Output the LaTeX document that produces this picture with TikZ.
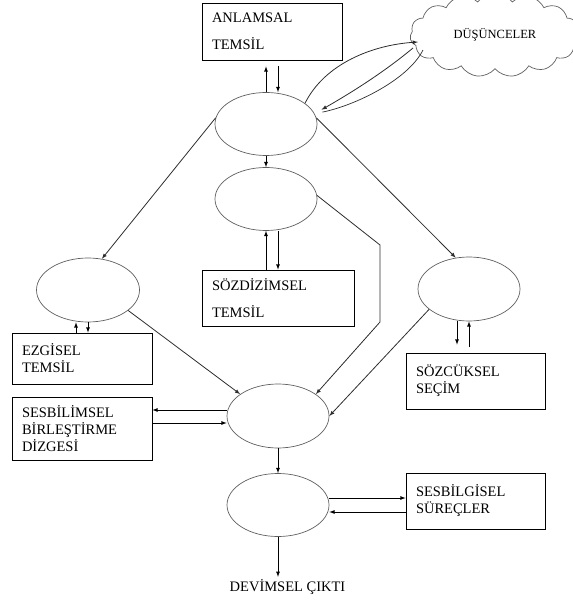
\documentclass[tikz,border=0pt]{standalone}
\usepackage{fontspec}
\setmainfont{Liberation Serif}
\usepackage{tikz}
\usetikzlibrary{arrows,shapes.geometric,shapes.symbols,calc}
\definecolor{el_line}{RGB}{95, 95, 95}
\definecolor{cn_line}{RGB}{45, 45, 45}
\tikzstyle{el}=[ellipse,draw=el_line,line width=0.7pt,inner sep=0pt,
  minimum width=102pt,minimum height=63pt]
\tikzstyle{bx}=[rectangle,draw=black,line width=0.8pt,inner xsep=10pt,
  inner ysep=0pt,align=left,font=\fontsize{14.5}{17}\selectfont]
\tikzstyle{ar}=[-latex,draw=black,line width=0.8pt]
\tikzstyle{ln}=[draw=cn_line,line width=0.7pt]

\begin{document}
\begin{tikzpicture}[x=1pt,y=-1pt]
        \useasboundingbox (0,0) rectangle (572,601);
        \node[style=bx,text width=120pt,minimum height=57pt] (0) at (272,31.5) {ANLAMSAL\\[10pt]TEMSİL};
        \node[style=el] (1) at (266,124) {};
        \node[cloud,draw=el_line,line width=0.7pt,cloud puffs=15,cloud puff arc=110,
          aspect=2.4,inner sep=0pt,minimum width=170pt,minimum height=84pt,
          font=\fontsize{12.5}{14}\selectfont] (2) at (495,35) {DÜŞÜNCELER};
        \node[style=el] (3) at (266,199) {};
        \node[style=bx,text width=132pt,minimum height=56pt] (4) at (278,298) {SÖZDİZİMSEL\\[10pt]TEMSİL};
        \node[style=el,minimum width=103pt,minimum height=64pt] (5) at (88,290) {};
        \node[style=el,minimum height=64pt] (6) at (469,289) {};
        \node[style=bx,text width=120pt,minimum height=51pt] (7) at (82,358.5) {EZGİSEL\\TEMSİL};
        \node[style=bx,text width=119pt,minimum height=56pt] (8) at (475.5,381) {SÖZCÜKSEL\\SEÇİM};
        \node[style=bx,text width=120pt,minimum height=63pt] (9) at (82,428.5) {SESBİLİMSEL\\BİRLEŞTİRME\\DİZGESİ};
        \node[style=el,minimum height=64pt] (10) at (278,416) {};
        \node[style=el] (11) at (278,505) {};
        \node[style=bx,text width=119pt,minimum height=56pt] (12) at (475.5,501) {SESBİLGİSEL\\SÜREÇLER};
        \node[inner sep=0pt,anchor=base,font=\fontsize{14.5}{17}\selectfont] (13) at (287.5,591) {DEVİMSEL ÇIKTI};
        \coordinate (b1) at (380,245);
        \coordinate (b2) at (380,322);
        % anlamsal temsil
        \draw[style=ar,shorten >=6pt] (1.north) to (1.north |- 0.south);
        \draw[style=ar,shorten <=6pt] ($(0.south)+(6,0)$) to ($(1.north)+(12,0)$);
        % dusunceler
        \draw[style=ar,draw=cn_line] (1.28) .. controls +(20,-40) and +(-45,3) .. ($(2.center)+(-77,7)$);
        \draw[style=ar,draw=cn_line,shorten >=8pt] ($(2.center)+(-82,13)$) .. controls +(-30,25) and +(35,-20) .. (1.12);
        \draw[style=ln,shorten >=8pt] ($(2.center)+(-72,15)$) .. controls +(-15,30) and +(40,-8) .. (1.12);
        % ust elips
        \draw[style=ar] (1.south) to (3.north);
        \draw[style=ar,draw=cn_line] (1.173) to (5.66);
        \draw[style=ar,draw=cn_line] (1.7) to (6.113);
        % sozdizimsel temsil
        \draw[style=ar] ($(4.north)+(-12,0)$) to (3.south |- 4.north) to (3.south);
        \draw[style=ar] ($(3.south)+(12,0)$) to (4.north);
        \draw[style=ar,draw=cn_line] (3.4) -- (b1) -- (b2) -- (10.30);
        % ezgisel temsil
        \draw[style=ar] ($(7.north)+(-6,0)$) to ($(5.south)+(-12,0)$);
        \draw[style=ar] (5.south) to ($(7.north)+(6,0)$);
        \draw[style=ar,draw=cn_line] (5.333) to (10.150);
        % sozcuksel secim
        \draw[style=ar] ($(6.south)+(-12,0)$) to ($(8.north)+(-18.5,-8)$);
        \draw[style=ar] ($(8.north)+(-6.5,-6)$) to (6.south);
        \draw[style=ar,draw=cn_line] (6.207) to (10.east);
        % sesbilimsel birlestirme dizgesi
        \draw[style=ar] ($(10.west)+(0,-6)$) to ($(9.east)+(0,-18.5)$);
        \draw[style=ar] ($(9.east)+(0,-5.5)$) to ($(10.west)+(0,7)$);
        % alt elipsler
        \draw[style=ar] (10.south) to (11.north);
        \draw[style=ar] ($(11.east)+(0,-7)$) to ($(12.west)+(0,-3)$);
        \draw[style=ar] ($(12.west)+(0,11)$) to ($(11.east)+(0,7)$);
        \draw[style=ar,shorten >=2pt] (11.south) to (11.south |- 13.north);
    \end{tikzpicture}
\end{document}
